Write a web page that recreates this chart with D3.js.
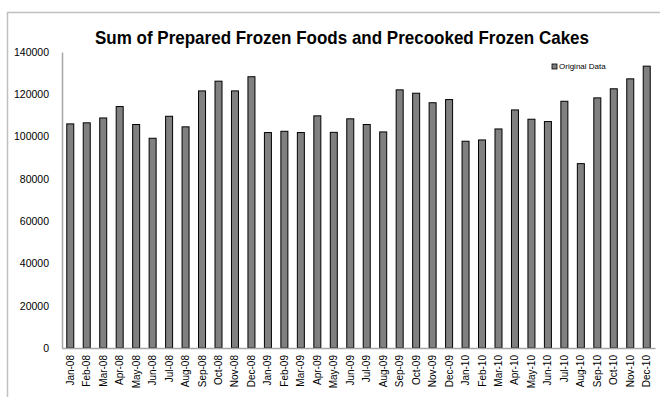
<!DOCTYPE html>
<html>
<head>
<meta charset="utf-8">
<script src="https://cdn.jsdelivr.net/npm/d3@7"></script>
<style>
  body { margin: 0; background: #fff; }
  svg { display: block; font-family: "Liberation Sans", Arial, sans-serif; }
</style>
</head>
<body>
<div id="chart"></div>
<script>
var months = ["Jan-08","Feb-08","Mar-08","Apr-08","May-08","Jun-08","Jul-08","Aug-08","Sep-08","Oct-08","Nov-08","Dec-08",
              "Jan-09","Feb-09","Mar-09","Apr-09","May-09","Jun-09","Jul-09","Aug-09","Sep-09","Oct-09","Nov-09","Dec-09",
              "Jan-10","Feb-10","Mar-10","Apr-10","May-10","Jun-10","Jul-10","Aug-10","Sep-10","Oct-10","Nov-10","Dec-10"];
var values = [106000,106500,108800,114200,105700,99200,109600,104600,121600,126200,121600,128300,
              101900,102500,101900,109800,102000,108400,105700,102200,122100,120500,116000,117500,
              97800,98400,103600,112600,108200,107100,116700,87200,118300,122600,127300,133300];
var yTicks = [0,20000,40000,60000,80000,100000,120000,140000];
var seriesName = "Original Data";
var title = "Sum of Prepared Frozen Foods and Precooked Frozen Cakes";

var W = 660, H = 397;
var margin = { left: 62, right: 5, top: 52, bottom: 49 };

var svg = d3.select("#chart").append("svg")
    .attr("width", W)
    .attr("height", H);

// outer frame (cropped chart area border)
svg.append("path")
    .attr("d", "M7.5," + H + "V12.5H" + W)
    .attr("fill", "none")
    .attr("stroke", "#c0c0c0")
    .attr("stroke-width", 1.5);

var x = d3.scaleBand()
    .domain(months)
    .range([margin.left, W - margin.right])
    .paddingInner(0.575)
    .paddingOuter(0.29);

var y = d3.scaleLinear()
    .domain([0, 140000])
    .range([H - margin.bottom, margin.top]);

// Title
svg.append("text")
    .attr("x", 342)
    .attr("y", 44)
    .attr("text-anchor", "middle")
    .attr("font-size", "19px")
    .attr("font-weight", "bold")
    .attr("fill", "#000")
    .attr("textLength", 494)
    .attr("lengthAdjust", "spacingAndGlyphs")
    .text(title);

// Y axis
var yAxis = svg.append("g")
    .attr("transform", "translate(" + margin.left + ",0)")
    .call(d3.axisLeft(y).tickValues(yTicks).tickSize(0).tickPadding(13).tickFormat(d3.format("d")));
yAxis.select(".domain").attr("stroke", "#a6a6a6").attr("stroke-width", 1.5);
yAxis.selectAll("text").attr("font-size", "10.5px").attr("fill", "#000");

// bars
svg.selectAll("rect.bar")
    .data(values)
    .enter()
    .append("rect")
    .attr("class", "bar")
    .attr("x", function (d, i) { return x(months[i]); })
    .attr("y", function (d) { return y(d); })
    .attr("width", x.bandwidth())
    .attr("height", function (d) { return y(0) - y(d); })
    .attr("fill", "#808080")
    .attr("stroke", "#000")
    .attr("stroke-width", 1);

// X axis
var xAxis = svg.append("g")
    .attr("transform", "translate(0," + y(0) + ")")
    .call(d3.axisBottom(x).tickSize(0));
xAxis.select(".domain").attr("stroke", "#a6a6a6").attr("stroke-width", 1.5);
xAxis.selectAll("text")
    .attr("font-size", "10px")
    .attr("fill", "#000")
    .attr("text-anchor", "end")
    .attr("dy", "0.35em")
    .attr("transform", "translate(0,7) rotate(-90)")
    .attr("x", 0)
    .attr("y", 0);

// legend
var lg = svg.append("g").attr("transform", "translate(552,64)");
lg.append("rect")
    .attr("width", 5)
    .attr("height", 5)
    .attr("fill", "#808080")
    .attr("stroke", "#000")
    .attr("stroke-width", 0.8);
lg.append("text")
    .attr("x", 7)
    .attr("y", 2.5)
    .attr("dy", "0.35em")
    .attr("font-size", "8px")
    .attr("fill", "#000")
    .text(seriesName);
</script>
</body>
</html>
